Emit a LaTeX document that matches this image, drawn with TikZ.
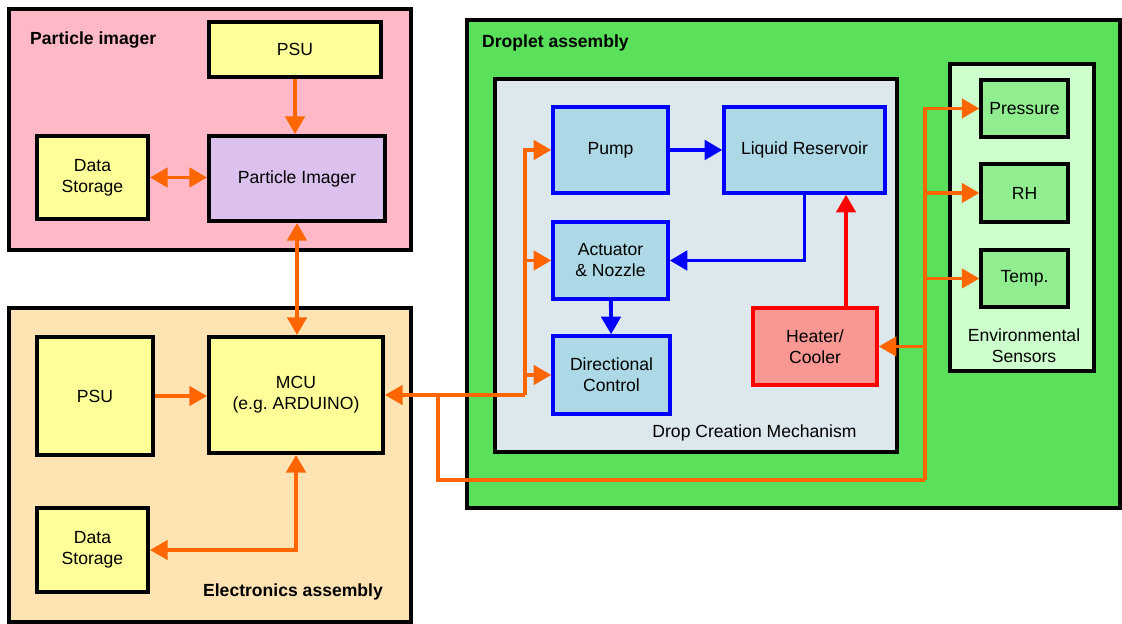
\documentclass[tikz,border=0pt]{standalone}
\usepackage{fontspec}
\setmainfont{Liberation Sans}
\usetikzlibrary{arrows.meta}

\definecolor{pinkbg}{HTML}{FFB9C6}
\definecolor{tanbg}{HTML}{FFE3B3}
\definecolor{greenbg}{HTML}{5AE05A}
\definecolor{mechbg}{HTML}{DDE8EE}
\definecolor{envbg}{HTML}{CCFFCC}
\definecolor{sensfill}{HTML}{90EE90}
\definecolor{yellowfill}{HTML}{FFFF99}
\definecolor{lilac}{HTML}{DCC0EE}
\definecolor{bluefill}{HTML}{ADD8E6}
\definecolor{heatfill}{HTML}{F99893}
\definecolor{wire}{HTML}{FF6600}

\tikzset{
  every node/.style={font=\fontsize{10}{12}\selectfont},
  group/.style={draw=black,line width=2.3pt,minimum width=#1},
  title/.style={font=\fontsize{10}{12}\selectfont\bfseries},
  unit/.style={draw=black,line width=2.3pt,fill=yellowfill,align=center},
  part/.style={draw=blue,line width=2pt,fill=bluefill,align=center},
  sensor/.style={draw=black,line width=1.9pt,fill=sensfill,align=center},
  bus/.style={wire,line width=2pt},
  tip/.style={-{Triangle[width=11pt,length=10pt]}},
  tips/.style={{Triangle[width=11pt,length=10pt]}-{Triangle[width=11pt,length=10pt]}},
  flow/.style={blue,line width=2.2pt,-{Triangle[width=11pt,length=10pt]}},
}

\begin{document}
\begin{tikzpicture}
\useasboundingbox (0,0) rectangle (22.44,12.48);

% the three assemblies
\node[group=8.04cm,fill=pinkbg,minimum height=4.82cm] (pimg) at (4.20,9.89) {};
\node[title,anchor=west] (pimgtitle) at (0.48,11.68) {Particle imager};
\node[group=8.04cm,fill=tanbg,minimum height=6.28cm] (elec) at (4.20,3.18) {};
\node[title] (electitle) at (5.86,0.64) {Electronics assembly};
\node[group=13.06cm,fill=greenbg,minimum height=9.76cm] (drop) at (15.87,7.20) {};
\node[title,anchor=west] (droptitle) at (9.52,11.62) {Droplet assembly};

% particle imager
\node[unit,minimum width=3.44cm,minimum height=1.10cm] (psuA) at (5.90,11.49) {PSU};
\node[unit,minimum width=2.22cm,minimum height=1.66cm] (storeA) at (1.85,8.93) {Data\\Storage};
\node[unit,fill=lilac,minimum width=3.52cm,minimum height=1.70cm] (imager) at (5.94,8.91) {Particle Imager};

% electronics
\node[unit,minimum width=2.32cm,minimum height=2.36cm] (psuB) at (1.90,4.56) {PSU};
\node[unit,minimum width=3.48cm,minimum height=2.32cm] (mcu) at (5.92,4.58) {MCU\\(e.g.\ ARDUINO)};
\node[unit,minimum width=2.22cm,minimum height=1.68cm] (storeB) at (1.85,1.48) {Data\\Storage};

% drop creation mechanism
\node[draw=black,line width=2.3pt,fill=mechbg,minimum width=8.04cm,minimum height=7.46cm] (mech) at (13.92,7.17) {};
\node (mechlabel) at (15.09,3.82) {Drop Creation Mechanism};
\node[part,minimum width=2.30cm,minimum height=1.72cm] (pump) at (12.21,9.48) {Pump};
\node[part,minimum width=3.22cm,minimum height=1.72cm] (resv) at (16.09,9.48) {Liquid Reservoir};
\node[part,minimum width=2.30cm,minimum height=1.54cm] (act) at (12.21,7.27) {Actuator\\\& Nozzle};
\node[part,minimum width=2.34cm,minimum height=1.56cm] (dirc) at (12.23,4.98) {Directional\\Control};
\node[part,draw=red,fill=heatfill,minimum width=2.48cm,minimum height=1.54cm] (heat) at (16.30,5.55) {Heater/\\Cooler};

% sensors
\node[draw=black,line width=2.3pt,fill=envbg,minimum width=2.88cm,minimum height=6.14cm] (env) at (20.44,8.13) {};
\node[align=center] (envlabel) at (20.48,5.57) {Environmental\\Sensors};
\node[sensor,minimum width=1.74cm,minimum height=1.14cm] (pres) at (20.49,10.31) {Pressure};
\node[sensor,minimum width=1.74cm,minimum height=1.16cm] (rh) at (20.49,8.62) {RH};
\node[sensor,minimum width=1.74cm,minimum height=1.14cm] (temp) at (20.49,6.91) {Temp.};

% power and data lines
\draw[bus,tip] (psuA.south) -- (psuA.south |- imager.north);
\draw[bus,tips] (storeA.east) -- (storeA.east -| imager.west);
\draw[bus,tips] (imager.south) -- (imager.south |- mcu.north);
\draw[bus,tip] (psuB.east) -- (psuB.east -| mcu.west);
\draw[bus,tips] (mcu.south) |- (storeB.east);

\coordinate (jA) at (10.50,4.58);
\coordinate (jB) at (8.76,4.58);
\coordinate (jC) at (18.50,2.88);
\draw[bus,tip] (jA) -- (mcu.east);
\draw[bus,tip] (jA) |- (pump.west);
\draw[bus,tip] (jA |- act.west) -- (act.west);
\draw[bus,tip] (jA |- dirc.west) -- (dirc.west);
\draw[bus] (jB) |- (jC);
\draw[bus,tip] (jC) |- (pres.west);
\draw[bus,tip] (jC |- rh.west) -- (rh.west);
\draw[bus,tip] (jC |- temp.west) -- (temp.west);
\draw[bus,tip] (jC |- heat.east) -- (heat.east);

% liquid path
\draw[flow] (pump) -- (resv);
\draw[flow] (resv.south) |- (act.east);
\draw[flow] (act) -- (dirc);
\draw[red,line width=1.8pt,-{Triangle[width=11pt,length=10pt]}] ([xshift=6.2mm]heat.north) -- ([xshift=6.2mm]heat.north |- resv.south);

\end{tikzpicture}
\end{document}
